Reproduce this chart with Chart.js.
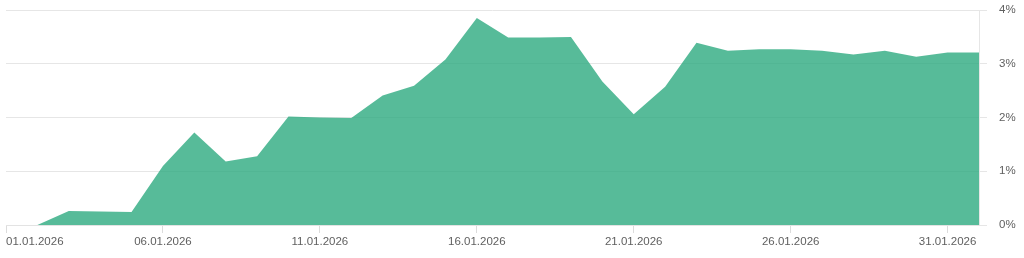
<!DOCTYPE html>
<html>
<head>
<meta charset="utf-8">
<script src="https://cdn.jsdelivr.net/npm/chart.js@4.4.1/dist/chart.umd.min.js"></script>
<style>
  html, body { margin: 0; padding: 0; background: #ffffff; }
  #wrap { width: 1024px; height: 258px; position: relative; }
</style>
</head>
<body>
<div id="wrap"><canvas id="c" width="1024" height="258"></canvas></div>
<script>
const dates = [
  "01.01.2026","02.01.2026","03.01.2026","04.01.2026","05.01.2026","06.01.2026",
  "07.01.2026","08.01.2026","09.01.2026","10.01.2026","11.01.2026","12.01.2026",
  "13.01.2026","14.01.2026","15.01.2026","16.01.2026","17.01.2026","18.01.2026",
  "19.01.2026","20.01.2026","21.01.2026","22.01.2026","23.01.2026","24.01.2026",
  "25.01.2026","26.01.2026","27.01.2026","28.01.2026","29.01.2026","30.01.2026",
  "31.01.2026","01.02.2026"
];
const shareValues = [
  0, 0, 0.26, 0.25, 0.24, 1.10, 1.72, 1.18, 1.28, 2.02, 2.00, 1.99,
  2.41, 2.59, 3.08, 3.85, 3.49, 3.49, 3.50, 2.67, 2.06, 2.57, 3.39, 3.24,
  3.27, 3.27, 3.24, 3.17, 3.24, 3.13, 3.21, 3.21
];
const xTickLabels = ["01.01.2026","06.01.2026","11.01.2026","16.01.2026","21.01.2026","26.01.2026","31.01.2026"];
const yTickValues = [0, 1, 2, 3, 4];

const FONT = "'Liberation Sans', Arial, sans-serif";

const xLabelPlugin = {
  id: 'xLabels',
  afterDraw(chart) {
    const ctx = chart.ctx;
    const xs = chart.scales.x;
    ctx.save();
    ctx.font = "11.5px " + FONT;
    ctx.fillStyle = "#5f5f5f";
    ctx.textBaseline = "middle";
    xTickLabels.forEach((lab, k) => {
      const idx = dates.indexOf(lab);
      if (idx < 0) return;
      const px = xs.getPixelForValue(idx);
      ctx.textAlign = k === 0 ? "left" : "center";
      ctx.fillText(lab, px, 242);
    });
    ctx.restore();
  }
};

new Chart(document.getElementById('c'), {
  type: 'line',
  data: {
    labels: dates,
    datasets: [{
      data: shareValues,
      fill: 'origin',
      backgroundColor: 'rgba(45,170,128,0.8)',
      borderColor: 'rgba(45,170,128,0.0)',
      borderWidth: 0,
      pointRadius: 0,
      tension: 0
    }]
  },
  options: {
    responsive: false,
    animation: false,
    devicePixelRatio: 1,
    layout: { padding: { left: 6, top: 10, bottom: 25, right: 0 } },
    plugins: { legend: { display: false }, tooltip: { enabled: false } },
    scales: {
      x: {
        type: 'category',
        offset: false,
        grid: {
          display: true,
          drawOnChartArea: false,
          drawTicks: true,
          tickLength: 8,
          color: (c) => (c.tick && xTickLabels.includes(dates[c.index])) ? '#dcdcdc' : 'rgba(0,0,0,0)'
        },
        border: { display: true, color: '#e3e3e3' },
        ticks: { display: false, autoSkip: false }
      },
      y: {
        position: 'right',
        min: 0,
        max: 4,
        afterBuildTicks: (s) => { s.ticks = yTickValues.map(v => ({ value: v })); },
        afterFit: (s) => { s.width = 45; s.paddingTop = 0; s.paddingBottom = 0; },
        grid: { color: '#e6e6e6', tickLength: 8, drawTicks: true },
        border: { display: true, color: '#e6e6e6' },
        ticks: {
          padding: 12,
          color: '#5f5f5f',
          font: { family: FONT, size: 11.5 },
          callback: (v) => v + '%'
        }
      }
    }
  },
  plugins: [xLabelPlugin]
});
</script>
</body>
</html>
